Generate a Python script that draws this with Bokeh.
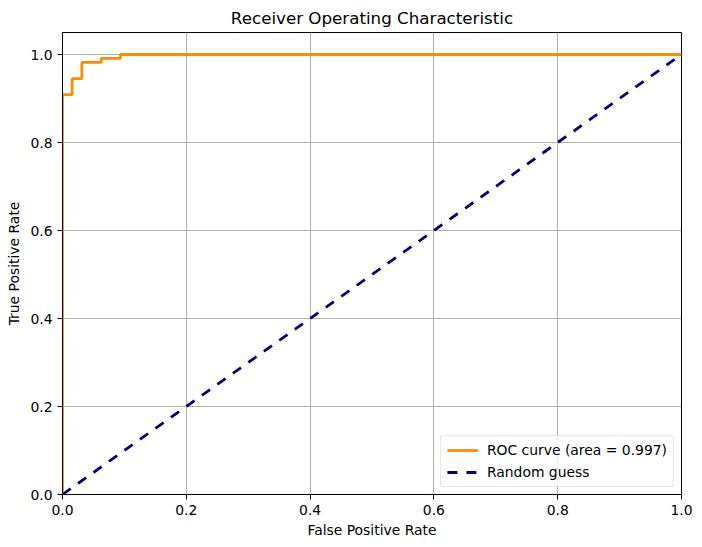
from bokeh.plotting import figure
from bokeh.models import FixedTicker, NumeralTickFormatter, Range1d, Legend, LegendItem
from bokeh.embed import file_html
from bokeh.resources import INLINE

fpr = [0.0, 0.0, 0.0, 1/64, 1/64, 2/64, 2/64, 2/64, 4/64, 4/64, 6/64, 6/64, 1.0]
tpr = [0.0, 0.009, 0.909, 0.909, 0.945, 0.945, 0.955, 0.982, 0.982, 0.991, 0.991, 1.0, 1.0]
diag_x = [0.0, 1.0]
diag_y = [0.0, 1.0]
ticks = [0.0, 0.2, 0.4, 0.6, 0.8, 1.0]
auc_label = "ROC curve (area = 0.997)"
diag_label = "Random guess"

FONT = "DejaVu Sans"
FS = "13.9px"

p = figure(frame_width=619, frame_height=462,
           x_range=Range1d(0, 1), y_range=Range1d(0, 1.05),
           output_backend="svg", toolbar_location=None,
           min_border_left=62, min_border_top=32, min_border_right=13, min_border_bottom=46)

p.title.text = "Receiver Operating Characteristic"
p.title.align = "center"
p.title.text_font = FONT
p.title.text_font_size = "16.7px"
p.title.text_font_style = "normal"
p.title.text_color = "black"
p.title.offset = 0

r1 = p.line(fpr, tpr, line_color="darkorange", line_width=2.8)
r2 = p.line(diag_x, diag_y, line_color="navy", line_width=2.8, line_dash="10 9")

for ax in (p.xaxis, p.yaxis):
    ax.ticker = FixedTicker(ticks=ticks)
    ax.formatter = NumeralTickFormatter(format="0.0")
    ax.minor_tick_line_color = None
    ax.major_tick_out = 5
    ax.major_tick_in = 0
    ax.major_tick_line_color = "black"
    ax.major_label_text_font = FONT
    ax.major_label_text_font_size = FS
    ax.major_label_text_color = "black"
    ax.major_label_standoff = 5
    ax.axis_label_text_font = FONT
    ax.axis_label_text_font_size = FS
    ax.axis_label_text_font_style = "normal"
    ax.axis_label_text_color = "black"
    ax.axis_line_color = "black"

p.xaxis.axis_label = "False Positive Rate"
p.yaxis.axis_label = "True Positive Rate"
p.xaxis.axis_label_standoff = 4
p.yaxis.axis_label_standoff = 5

p.grid.grid_line_color = "#b0b0b0"
p.grid.grid_line_width = 1
p.xgrid.ticker = FixedTicker(ticks=ticks)
p.ygrid.ticker = FixedTicker(ticks=ticks)

p.outline_line_color = "black"
p.outline_line_width = 1
p.outline_line_alpha = 1

legend = Legend(items=[LegendItem(label=auc_label, renderers=[r1]),
                       LegendItem(label=diag_label, renderers=[r2])],
                location="bottom_right")
legend.label_text_font = FONT
legend.label_text_font_size = FS
legend.label_text_color = "black"
legend.border_line_color = "#cccccc"
legend.border_line_width = 1
legend.border_radius = 3
legend.background_fill_alpha = 0.8
legend.margin = 7
legend.padding = 6
legend.spacing = 6
legend.glyph_width = 31
legend.glyph_height = 16
legend.label_standoff = 9
legend.label_height = 16
p.add_layout(legend)

open("out.html", "w").write(file_html(p, INLINE))
